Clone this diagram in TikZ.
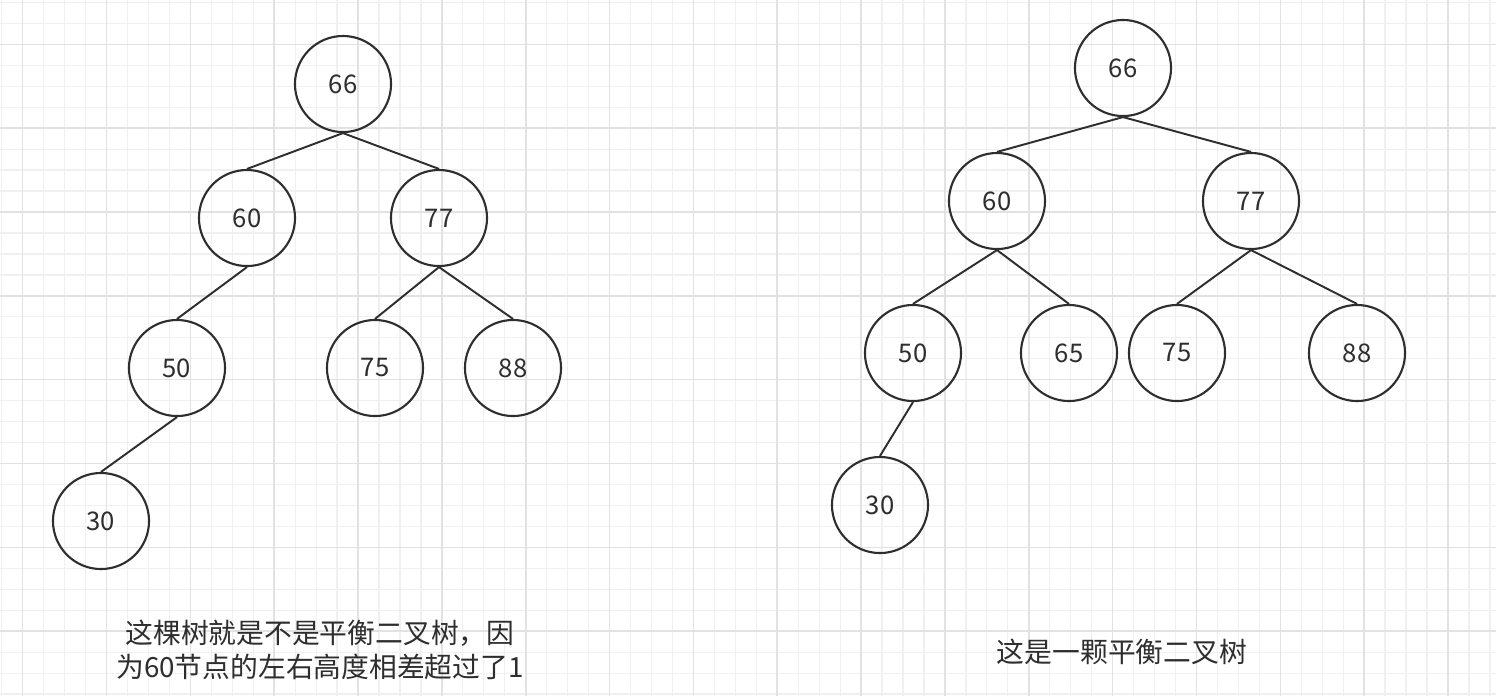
\documentclass[tikz,border=0pt]{standalone}
\usepackage{fontspec}
\setmainfont{Noto Sans CJK SC}
\usepackage{tikz}
\usetikzlibrary{positioning}
\usepackage{xcolor}
\definecolor{gridminor}{HTML}{F0F0F0}
\definecolor{gridmajor}{HTML}{E2E2E2}
\definecolor{ink}{HTML}{2E2E2E}
\tikzset{
  treenode/.style={circle,draw=ink,line width=0.6pt,minimum size=0.96cm,inner sep=0pt,
    text=ink,font=\fontsize{7.3}{8}\selectfont},
  branch/.style={draw=ink,line width=0.55pt},
  note/.style={align=center,text=ink,inner sep=0pt,font=\fontsize{7.9}{9.7}\selectfont}
}

\begin{document}
\begin{tikzpicture}[x=0.01cm,y=-0.01cm]
\useasboundingbox (0,0) rectangle (1496,696);
\fill[white] (0,0) rectangle (1496,696);
% background grid
\foreach \i in {0,...,71} \draw[gridminor,line width=0.35pt] ({1.74+20.96*\i},0)--({1.74+20.96*\i},696);
\foreach \i in {0,...,33} \draw[gridminor,line width=0.35pt] (0,{2.4+20.96*\i})--(1496,{2.4+20.96*\i});
\foreach \i in {0,...,17} \draw[gridmajor,line width=0.45pt] ({22.7+83.84*\i},0)--({22.7+83.84*\i},696);
\foreach \i in {0,...,7} \draw[gridmajor,line width=0.45pt] (0,{44.3+83.84*\i})--(1496,{44.3+83.84*\i});
% left tree
\node[treenode] (l66) at (343,84) {66};
\node[treenode] (l60) at (247,218) {60};
\node[treenode] (l77) at (439,218) {77};
\node[treenode] (l50) at (177,368) {50};
\node[treenode] (l75) at (375,368) {75};
\node[treenode] (l88) at (513,368) {88};
\node[treenode] (l30) at (101,521) {30};
\draw[branch] (l66.south)--(l60.north);
\draw[branch] (l66.south)--(l77.north);
\draw[branch] (l60.south)--(l50.north);
\draw[branch] (l77.south)--(l75.north);
\draw[branch] (l77.south)--(l88.north);
\draw[branch] (l50.south)--(l30.north);
\node[note] (lnote) at (320,650) {这棵树就是不是平衡二叉树，因\\为60节点的左右高度相差超过了1};
% right tree
\node[treenode] (r66) at (1123,68) {66};
\node[treenode] (r60) at (997,201) {60};
\node[treenode] (r77) at (1251,201) {77};
\node[treenode] (r50) at (913,353) {50};
\node[treenode] (r65) at (1069,353) {65};
\node[treenode] (r75) at (1177,353) {75};
\node[treenode] (r88) at (1357,353) {88};
\node[treenode] (r30) at (880,505) {30};
\draw[branch] (r66.south)--(r60.north);
\draw[branch] (r66.south)--(r77.north);
\draw[branch] (r60.south)--(r50.north);
\draw[branch] (r60.south)--(r65.north);
\draw[branch] (r77.south)--(r75.north);
\draw[branch] (r77.south)--(r88.north);
\draw[branch] (r50.south)--(r30.north);
\node[note] (rnote) at (1122,652) {这是一颗平衡二叉树};
\end{tikzpicture}
\end{document}
